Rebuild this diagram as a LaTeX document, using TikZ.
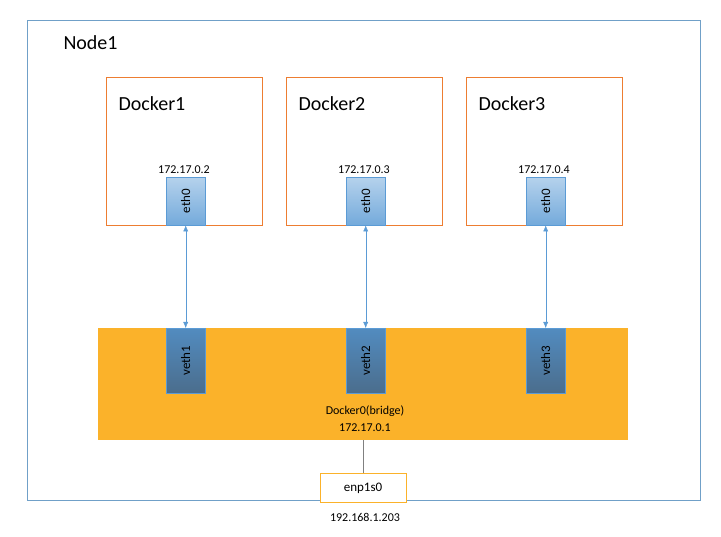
\documentclass[tikz,border=0pt]{standalone}
\usepackage{fontspec}
\setmainfont{Carlito}
\usetikzlibrary{arrows.meta}
\definecolor{boxred}{RGB}{237,125,49}
\definecolor{frameblue}{RGB}{112,160,200}
\definecolor{bridge}{RGB}{251,178,42}
\definecolor{linkblue}{RGB}{91,155,213}
\tikzset{
  docker/.style={draw=boxred,thick,minimum width=156pt,minimum height=148pt,anchor=north west},
  ethport/.style={draw=linkblue,top color=linkblue!45,bottom color=linkblue!85,
    minimum width=39pt,minimum height=48pt,anchor=north west},
  vethport/.style={draw=linkblue,top color=linkblue!90!black,bottom color=linkblue!60!black!90,
    minimum width=39pt,minimum height=65pt,anchor=north west},
  portlabel/.style={rotate=90,font=\fontsize{13}{13}\selectfont},
  ip/.style={font=\fontsize{12}{12}\selectfont},
  link/.style={linkblue,{Latex[length=6pt,width=5pt]}-{Latex[length=6pt,width=5pt]}}
}
\begin{document}
\begin{tikzpicture}[x=1pt,y=-1pt]
\useasboundingbox[fill=white] (0,0) rectangle (721,537);
\node[draw=frameblue,thick,minimum width=673pt,minimum height=480pt,anchor=north west] (node1) at (27,20) {};
\node[font=\fontsize{20}{20}\selectfont,anchor=west] (title) at (60,43) {Node1};
\node[fill=bridge,minimum width=530pt,minimum height=112pt,anchor=north west] (bridge) at (98,328) {};
\foreach \i/\x/\ip in {1/106/172.17.0.2,2/286/172.17.0.3,3/466/172.17.0.4}{
  \node[docker] (docker\i) at (\x,77) {};
  \node[font=\fontsize{20}{20}\selectfont,anchor=west] (dname\i) at (\x+9,104) {Docker\i};
  \node[ethport] (eth\i) at (\x+60,177) {};
  \node[portlabel] at (eth\i) {eth0};
  \node[ip] (ip\i) at (\x+78,170) {\ip};
  \node[vethport] (veth\i) at (\x+60,328) {};
  \node[portlabel,text=black] at (veth\i) {veth\i};
  \draw[link] (eth\i.south) -- (veth\i.north);
}
\node[ip] (bname) at (365,411) {Docker0(bridge)};
\node[ip] (bip) at (365,428) {172.17.0.1};
\node[draw=bridge,thick,fill=white,minimum width=86pt,minimum height=29pt,
  font=\fontsize{13}{13}\selectfont] (enp) at (363,488) {enp1s0};
\node[ip] (enpip) at (365,517) {192.168.1.203};
\draw[gray] (bridge.south -| enp) -- (enp.north);
\end{tikzpicture}
\end{document}
